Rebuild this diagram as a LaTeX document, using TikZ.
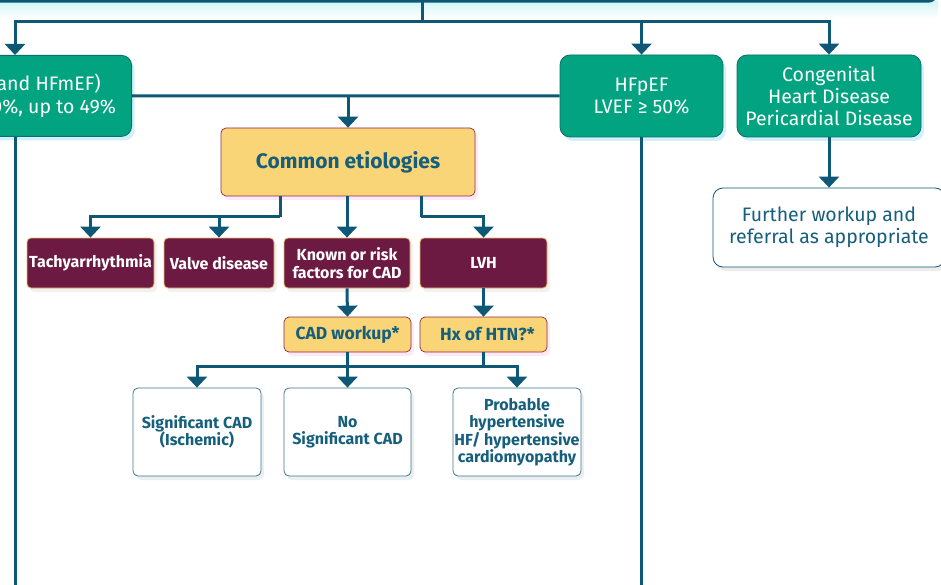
\documentclass[tikz,border=0pt]{standalone}
\usepackage{fontspec}
\setmainfont{Fira Sans}
\usetikzlibrary{arrows.meta,shadows,calc}
\definecolor{lineblue}{HTML}{0E5876}
\definecolor{hfgreen}{HTML}{02A380}
\definecolor{hfgreenb}{HTML}{0B6F6A}
\definecolor{maroon}{HTML}{6D1A42}
\definecolor{maroonb}{HTML}{E8BC6A}
\definecolor{ylw}{HTML}{FAD577}
\definecolor{ylwb}{HTML}{8A2A4A}
\definecolor{tealtxt}{HTML}{155F7C}
\definecolor{wboxb}{HTML}{3C7591}
\tikzset{
  conn/.style={draw=lineblue, line width=3pt},
  arr/.style={conn, -{Triangle[width=20pt,length=11pt]}},
  greenbox/.style={rectangle, rounded corners=10pt, fill=hfgreen, draw=hfgreenb, line width=0.8pt,
    text=white, font=\fontsize{19.5}{22.5}\selectfont, align=center, inner sep=1pt,
    drop shadow={shadow xshift=3pt, shadow yshift=-4pt, fill=cyan!25!white, opacity=0.7}},
  wbox/.style={rectangle, rounded corners=10pt, fill=white, draw=lineblue, line width=0.8pt,
    text=tealtxt, font=\fontsize{19.5}{22}\selectfont, align=center, inner sep=1pt,
    drop shadow={shadow xshift=3pt, shadow yshift=-4pt, fill=gray!25, opacity=0.6}},
  ybox/.style={rectangle, rounded corners=5pt, fill=ylw, draw=ylwb, line width=0.7pt,
    text=tealtxt, font=\bfseries, align=center,
    drop shadow={shadow xshift=3pt, shadow yshift=-4pt, fill=magenta!15!white, opacity=0.6}},
  mbox/.style={rectangle, rounded corners=4pt, fill=maroon, draw=maroonb, line width=0.8pt,
    text=white, font=\fontsize{16}{17.5}\selectfont\bfseries, align=center,
    minimum height=50pt, inner sep=1pt,
    drop shadow={shadow xshift=3pt, shadow yshift=-4pt, fill=magenta!12!gray!20, opacity=0.6}},
  bbox/.style={rectangle, rounded corners=5pt, fill=white, draw=wboxb, line width=0.8pt,
    text=tealtxt, font=\fontsize{16}{17.5}\selectfont\bfseries, align=center,
    minimum height=88pt, minimum width=128pt, inner sep=0.5pt,
    drop shadow={shadow xshift=3pt, shadow yshift=-4pt, fill=cyan!20!gray!25, opacity=0.6}},
}
\begin{document}
\begin{tikzpicture}[x=1pt,y=-1pt]
\useasboundingbox (0,0) rectangle (941,585);
% top box (cut off)
\shade[top color=gray!35!cyan!20, bottom color=white] (0,2) rectangle (938,18);
\draw[lineblue, line width=2.5pt, fill=white, rounded corners=9pt] (-20,-60) rectangle (937,1.5);
% nodes
\node[greenbox, anchor=north east, minimum width=227pt, minimum height=81pt] (hfr) at (132,55)
  {HFrEF (and HFmEF)\\LVEF\hspace{6pt}≤\hspace{6pt}40\%, up to 49\%};
\node[greenbox, minimum width=163pt, minimum height=82pt] (hfp) at (641.5,96) {HFpEF\\LVEF ≥ 50\%};
\node[greenbox, font=\fontsize{19.5}{22}\selectfont, minimum width=184pt, minimum height=82pt] (cong) at (829,96) {Congenital\\Heart Disease\\Pericardial Disease};
\node[wbox, minimum width=232pt, minimum height=79pt] (fur) at (829,227.5) {Further workup and\\referral as appropriate};
\node[ybox, font=\fontsize{21}{24}\selectfont\bfseries, minimum width=254pt, minimum height=68pt] (ce) at (348,162) {Common etiologies};
\node[mbox, minimum width=127pt] (tach) at (90.5,263) {Tachyarrhythmia};
\node[mbox, minimum width=110pt] (valve) at (219,263) {Valve disease};
\node[mbox, minimum width=126pt] (known) at (347,263) {Known or risk\\factors for CAD};
\node[mbox, minimum width=127pt] (lvh) at (483.5,263) {LVH};
\node[ybox, font=\fontsize{17.5}{20}\selectfont\bfseries, minimum width=127pt, minimum height=35pt] (cadw) at (347.5,334.5) {CAD workup*};
\node[ybox, font=\fontsize{17.5}{20}\selectfont\bfseries, minimum width=127pt, minimum height=35pt] (hx) at (483.5,334.5) {\hspace*{8pt}Hx of HTN?*};
\node[bbox] (sig) at (197,432) {Significant CAD\\(Ischemic)};
\node[bbox, minimum width=127pt] (nosig) at (347.5,432) {No\\Significant CAD};
\node[bbox] (prob) at (517,432) {Probable\\hypertensive\\HF/ hypertensive\\cardiomyopathy};
% coordinates
\coordinate (top) at (422,1.5);
\coordinate (bus) at (422,22);
\coordinate (lx) at (15,0);
\coordinate (lbot) at (15,590);
\coordinate (pbot) at (641.5,590);
\coordinate (jl) at (280,217);
\coordinate (jr) at (421,217);
\coordinate (jb) at (347.5,366);
% connectors
\draw[conn] (top) -- (bus);
\draw[arr] (bus) -| (hfr.north -| lx);
\draw[arr] (bus) -| (hfp.north);
\draw[arr] (bus) -| (cong.north);
\draw[conn] (hfr.south -| lx) -- (lbot);
\draw[conn] (hfp.south) -- (pbot);
\draw[conn] (hfr.east) -- (hfp.west);
\draw[arr] (hfr.east -| ce.north) -- (ce.north);
\draw[arr] (cong.south) -- (fur.north);
\draw[conn] (ce.south -| jl) -- (jl);
\draw[arr] (jl) -| (tach.north);
\draw[arr] (jl) -| (valve.north);
\draw[arr] (ce.south -| known.north) -- (known.north);
\draw[conn] (ce.south -| jr) -- (jr);
\draw[arr] (jr) -| (lvh.north);
\draw[arr] (known.south) -- (cadw.north);
\draw[arr] (lvh.south) -- (hx.north);
\draw[arr] (cadw.south) -- (nosig.north);
\draw[arr] (jb) -| (sig.north);
\draw[conn] (hx.south) -- (hx.south |- jb);
\draw[conn] (jb) -- (hx.south |- jb);
\draw[arr] (hx.south |- jb) -| (prob.north);
\end{tikzpicture}
\end{document}
